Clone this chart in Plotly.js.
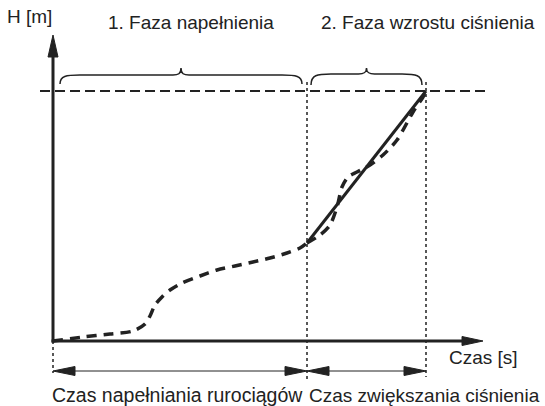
<!DOCTYPE html>
<html><head><meta charset="utf-8">
<script src="https://cdn.plot.ly/plotly-3.0.1.min.js"></script>
<style>html,body{margin:0;padding:0;background:#fff}</style>
</head><body><div id="chart" style="width:545px;height:406px"></div>
<script>
// Phase 1: pipeline filling (time units, head units)
var fillTime = [0, 30, 57, 80, 92, 97, 102, 109, 117, 129, 147, 164, 182, 200, 217, 234, 247, 254];
var fillHead = [0, 4, 7, 10, 17, 25, 36, 44, 51, 58, 65, 71, 75, 79, 83, 88, 93, 98];
// Phase 2: pressure rise (actual, dashed)
var riseTime = [254, 267, 277, 284, 289, 295, 304, 317, 330, 344, 360, 370, 373];
var riseHead = [98, 106, 116, 134, 154, 164, 169, 176, 186, 201, 229, 244, 250];
// Phase 2: idealised linear rise
var linTime = [254, 373];
var linHead = [98, 250];
// Key instants and levels
var tFillEnd = 254, tEnd = 373, hTarget = 250;
var labels = {
  yTitle: 'H [m]', xTitle: 'Czas [s]',
  phase1: '1. Faza napełnienia', phase2: '2. Faza wzrostu ciśnienia',
  dur1: 'Czas napełniania rurociągów', dur2: 'Czas zwiększania ciśnienia'
};

var ink = '#222222';
var F = {family: 'Liberation Sans, Arial, sans-serif', size: 19, color: ink};
var Fb = {family: 'Liberation Sans, Arial, sans-serif', size: 19.5, color: ink};

var traces = [
  {x: fillTime, y: fillHead, mode: 'lines', line: {color: ink, width: 3.5, dash: '10px,7px', shape: 'spline', smoothing: 0.8}, hoverinfo: 'skip'},
  {x: riseTime, y: riseHead, mode: 'lines', line: {color: ink, width: 3.5, dash: '10px,7px', shape: 'spline', smoothing: 0.8}, hoverinfo: 'skip'},
  {x: linTime, y: linHead, mode: 'lines', line: {color: ink, width: 3}, hoverinfo: 'skip'}
];

function tri(tipX, tipY, dir, len, half) {
  if (dir === 'up') return 'M' + (tipX - half) + ',' + (tipY - len) + ' L' + tipX + ',' + tipY + ' L' + (tipX + half) + ',' + (tipY - len) + ' Z';
  if (dir === 'right') return 'M' + (tipX - len) + ',' + (tipY - half) + ' L' + tipX + ',' + tipY + ' L' + (tipX - len) + ',' + (tipY + half) + ' Z';
  return 'M' + (tipX + len) + ',' + (tipY - half) + ' L' + tipX + ',' + tipY + ' L' + (tipX + len) + ',' + (tipY + half) + ' Z';
}
function brace(x0, x1, yb, ytip, yend) {
  var m = (x0 + x1) / 2;
  return 'M' + x0 + ',' + yend +
    ' C' + x0 + ',' + (yb - 1) + ' ' + (x0 + 6) + ',' + yb + ' ' + (x0 + 20) + ',' + yb +
    ' L' + (m - 8) + ',' + yb +
    ' C' + (m - 3) + ',' + yb + ' ' + m + ',' + (yb + 1) + ' ' + m + ',' + ytip +
    ' C' + m + ',' + (yb + 1) + ' ' + (m + 3) + ',' + yb + ' ' + (m + 8) + ',' + yb +
    ' L' + (x1 - 20) + ',' + yb +
    ' C' + (x1 - 6) + ',' + yb + ' ' + x1 + ',' + (yb - 1) + ' ' + x1 + ',' + yend;
}

var yTop = 284, yTip = 306, xTip = 430, xBase = 409;
var dimY = -30;
var shapes = [
  {type: 'line', x0: -13, x1: 434, y0: hTarget, y1: hTarget, line: {color: ink, width: 2, dash: '10px,5px'}},
  {type: 'line', x0: tFillEnd, x1: tFillEnd, y0: 259, y1: -40, line: {color: ink, width: 1.5, dash: 'dot'}},
  {type: 'line', x0: tEnd, x1: tEnd, y0: 259, y1: -36, line: {color: ink, width: 1.5, dash: 'dot'}},
  {type: 'line', x0: 0, x1: 0, y0: 0, y1: -32, line: {color: ink, width: 1.5, dash: 'dot'}},
  {type: 'line', x0: 0, x1: 0, y0: -1.5, y1: yTop + 2, line: {color: ink, width: 3}},
  {type: 'line', x0: -1.5, x1: xBase + 2, y0: 0, y1: 0, line: {color: ink, width: 3}},
  {type: 'path', path: tri(0, yTip, 'up', yTip - yTop, 5), fillcolor: ink, line: {color: ink, width: 1}},
  {type: 'path', path: tri(xTip, 0, 'right', xTip - xBase, 4.5), fillcolor: ink, line: {color: ink, width: 1}},
  {type: 'line', x0: 10, x1: tFillEnd - 10, y0: dimY, y1: dimY, line: {color: ink, width: 1}},
  {type: 'path', path: tri(0, dimY, 'left', 22, 4.5), fillcolor: ink, line: {color: ink, width: 1}},
  {type: 'path', path: tri(tFillEnd, dimY, 'right', 22, 4.5), fillcolor: ink, line: {color: ink, width: 1}},
  {type: 'line', x0: tFillEnd + 10, x1: tEnd - 10, y0: dimY, y1: dimY, line: {color: ink, width: 1}},
  {type: 'path', path: tri(tFillEnd, dimY, 'left', 22, 4.5), fillcolor: ink, line: {color: ink, width: 1}},
  {type: 'path', path: tri(tEnd, dimY, 'right', 22, 4.5), fillcolor: ink, line: {color: ink, width: 1}},
  {type: 'path', path: brace(7, 249, 266, 273, 257), line: {color: ink, width: 1.5}},
  {type: 'path', path: brace(258, 369, 267, 273, 256), line: {color: ink, width: 1.5}}
];

var annotations = [
  {x: -48, y: 325, text: labels.yTitle, xanchor: 'left', yanchor: 'middle', showarrow: false, font: F},
  {x: 53, y: 319, text: labels.phase1, xanchor: 'left', yanchor: 'middle', showarrow: false, font: F},
  {x: 266, y: 319, text: labels.phase2, xanchor: 'left', yanchor: 'middle', showarrow: false, font: F},
  {x: 394, y: -16, text: labels.xTitle, xanchor: 'left', yanchor: 'middle', showarrow: false, font: F},
  {x: -3, y: -54, text: labels.dur1, xanchor: 'left', yanchor: 'middle', showarrow: false, font: Fb},
  {x: 254, y: -54, text: labels.dur2, xanchor: 'left', yanchor: 'middle', showarrow: false, font: F}
];

var layout = {
  width: 545, height: 406,
  margin: {l: 0, r: 0, t: 0, b: 0},
  paper_bgcolor: '#fff', plot_bgcolor: '#fff',
  showlegend: false,
  xaxis: {range: [-53, 492], visible: false, fixedrange: true},
  yaxis: {range: [-65, 341], visible: false, fixedrange: true},
  shapes: shapes,
  annotations: annotations
};
Plotly.newPlot('chart', traces, layout, {staticPlot: true, displayModeBar: false});
</script></body></html>
